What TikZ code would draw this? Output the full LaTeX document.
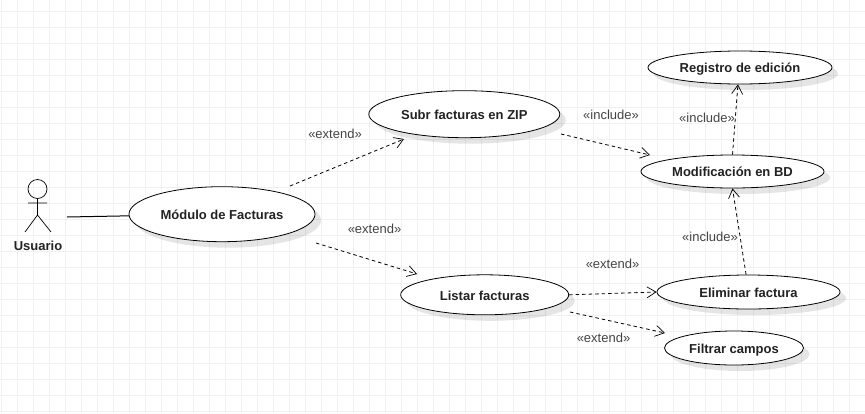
\documentclass[tikz,border=0pt]{standalone}
\usepackage{fontspec}
\setmainfont{Liberation Sans}
\usetikzlibrary{arrows.meta,shadows}
\definecolor{gridline}{RGB}{240,240,240}
\definecolor{labeltext}{RGB}{68,68,68}
\definecolor{casetext}{RGB}{34,34,34}
\tikzset{
	usecase/.style n args={2}{ellipse,draw=black,fill=white,line width=0.8pt,inner sep=0pt,minimum width=#1pt,minimum height=#2pt,
		text=casetext,text height=10.5pt,text depth=0pt,font=\fontsize{13}{15}\selectfont\bfseries,drop shadow={shadow xshift=6pt,shadow yshift=-6pt,fill=black,opacity=0.1}},
	stereotype/.style={text=labeltext,inner sep=0pt,font=\fontsize{13}{15}\selectfont},
	depends/.style={draw=black,line width=0.8pt,dashed,dash pattern=on 3.5pt off 3pt,-{Straight Barb[length=9pt,width=11pt,line width=0.7pt]}},
}
\usetikzlibrary{shapes}
\begin{document}
\begin{tikzpicture}[x=1pt,y=-1pt]
\pgfmathsetmacro{\gridsize}{16}
\useasboundingbox (0,0) rectangle (865,413);
\fill[white] (0,0) rectangle (865,413);
% grid
\foreach \j in {0,...,54}{%
	\draw[gridline,line width=0.8pt] (1.7+\j*\gridsize,0) -- (1.7+\j*\gridsize,413);
}
\foreach \j in {0,...,25}{%
	\draw[gridline,line width=0.8pt] (0,11.7+\j*\gridsize) -- (865,11.7+\j*\gridsize);
}
% actor
\draw[black,line width=0.7pt] (37.5,189) circle (9.5pt);
\draw[black,line width=0.7pt] (37.5,198.5) -- (37.5,215) (28,203) -- (47,203) (25,232) -- (37.5,215) -- (51,232);
\node[text=casetext,inner sep=0pt,font=\fontsize{13}{15}\selectfont\bfseries] (usuario) at (38,245.5) {Usuario};
% use cases
\node[usecase={186}{55}] (modulo) at (222,214.2) {Módulo de Facturas};
\node[usecase={191}{47}] (subir) at (464.3,114.2) {Subr facturas en ZIP};
\node[usecase={168}{40}] (listar) at (484.7,294.8) {Listar facturas};
\node[usecase={184}{33}] (registro) at (740,67.5) {Registro de edición};
\node[usecase={183}{33}] (modificacion) at (732.5,171.5) {Modificación en BD};
\node[usecase={183}{34}] (eliminar) at (748.5,292) {Eliminar factura};
\node[usecase={139}{34}] (filtrar) at (734,348) {Filtrar campos};
% free ends
\coordinate (usuarioend) at (67,217);
\coordinate (moduloup) at (290,186);
\coordinate (subirend) at (404,139);
\coordinate (modulodown) at (316,243);
\coordinate (listarend) at (417,274);
\coordinate (subirout) at (561,134);
\coordinate (modificacionend) at (650,155);
\coordinate (listarout) at (570,312);
\coordinate (filtrarend) at (665,333);
% connectors
\draw[black,line width=1pt] (usuarioend) -- (modulo.181);
\draw[depends] (moduloup) -- (subirend);
\draw[depends] (modulodown) -- (listarend);
\draw[depends] (subirout) -- (modificacionend);
\draw[depends] (modificacion.north) -- (registro.263);
\draw[depends] (eliminar.98) -- (modificacion.south);
\draw[depends] (listar.east) -- (eliminar.west);
\draw[depends] (listarout) -- (filtrarend);
% labels
\node[stereotype] (extendsubir) at (335,133.5) {«extend»};
\node[stereotype] (extendlistar) at (374.5,228.5) {«extend»};
\node[stereotype] (includemod) at (611,114.5) {«include»};
\node[stereotype] (includereg) at (707,117.5) {«include»};
\node[stereotype] (includeelim) at (710,236.5) {«include»};
\node[stereotype] (extendelim) at (612.5,263.5) {«extend»};
\node[stereotype] (extendfiltrar) at (603.5,337.5) {«extend»};
\end{tikzpicture}
\end{document}
